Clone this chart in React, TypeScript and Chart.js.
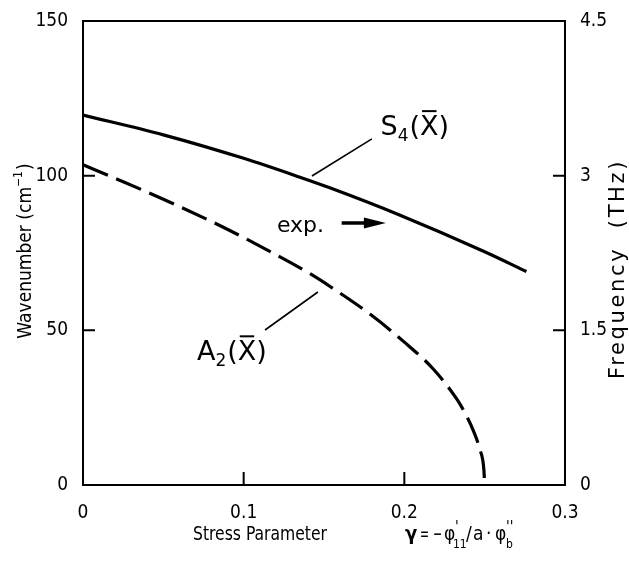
import React, { useEffect, useRef } from "react";
import { Chart, registerables } from "chart.js";

Chart.register(...registerables);

const FONT = "'DejaVu Sans Condensed', 'DejaVu Sans', sans-serif";
const FONT_REG = "'DejaVu Sans', sans-serif";

// S4(X) branch (solid), wavenumber in cm^-1 vs stress parameter gamma
const s4Gamma = [0, 0.05, 0.1, 0.135, 0.154, 0.197, 0.25, 0.276];
const s4Wavenumber = [119.6, 113.2, 105.6, 99.5, 96, 87.3, 75.4, 69];

// A2(X) branch (dashed)
const a2Gamma = [0, 0.022, 0.05, 0.087, 0.12, 0.141, 0.154, 0.179, 0.2, 0.218, 0.233, 0.238, 0.243, 0.247, 0.2495, 0.25];
const a2Wavenumber = [103.5, 98.7, 92.4, 83.4, 74.5, 68.4, 64.1, 55.1, 46.2, 37.5, 27.5, 23, 17.5, 11.5, 5, 0];

const xTicks = [0, 0.1, 0.2, 0.3];
const xTickLabels = ["0", "0.1", "0.2", "0.3"];
const yTicks = [0, 50, 100, 150];
const yTickLabels = ["0", "50", "100", "150"];
const y2Ticks = [0, 1.5, 3, 4.5];
const y2TickLabels = ["0", "1.5", "3", "4.5"];

// annotation anchors in data coordinates (gamma, wavenumber)
const s4LabelAt = [0.1852, 113.2];
const s4LeaderFrom = [0.1425, 99.9];
const s4LeaderTo = [0.1798, 111.9];
const a2LabelAt = [0.0709, 40.4];
const a2LeaderFrom = [0.1462, 62.4];
const a2LeaderTo = [0.1133, 50.1];
const expLabelAt = [0.1207, 81.8];
const expArrowFrom = [0.161, 84.7];
const expArrowTo = [0.1885, 84.7];

function drawModeLabel(ctx: CanvasRenderingContext2D, x: number, y: number, main: string, sub: string) {
  const size = 27;
  let cx = x;
  ctx.font = `${size}px ${FONT_REG}`;
  ctx.fillText(main, cx, y);
  cx += ctx.measureText(main).width;
  ctx.font = `17px ${FONT_REG}`;
  ctx.fillText(sub, cx, y + 6);
  cx += ctx.measureText(sub).width + 1;
  ctx.font = `${size}px ${FONT_REG}`;
  ctx.fillText("(", cx, y);
  cx += ctx.measureText("(").width;
  const wX = ctx.measureText("X").width;
  ctx.fillText("X", cx, y);
  ctx.save();
  ctx.lineWidth = 2;
  ctx.beginPath();
  ctx.moveTo(cx + 2, y - size * 0.73 - 4);
  ctx.lineTo(cx + wX - 2, y - size * 0.73 - 4);
  ctx.stroke();
  ctx.restore();
  cx += wX;
  ctx.fillText(")", cx, y);
}

function fillFit(ctx: CanvasRenderingContext2D, text: string, x: number, y: number, width: number) {
  const w = ctx.measureText(text).width;
  ctx.save();
  ctx.translate(x, y);
  ctx.scale(width / w, 1);
  ctx.fillText(text, 0, 0);
  ctx.restore();
}

const overlay = {
  id: "overlay",
  afterDraw(chart: any) {
    const { ctx, chartArea: a, scales } = chart;
    const xs = scales.x, ys = scales.y, y2 = scales.y2;
    const P = (p: number[]) => [xs.getPixelForValue(p[0]), ys.getPixelForValue(p[1])];
    ctx.save();
    ctx.strokeStyle = "#000";
    ctx.fillStyle = "#000";
    ctx.textBaseline = "alphabetic";
    ctx.textAlign = "left";

    // frame
    ctx.lineWidth = 2;
    ctx.strokeRect(a.left, a.top, a.right - a.left, a.bottom - a.top);

    // inward ticks
    ctx.beginPath();
    for (const v of xTicks) {
      if (v <= xs.min || v >= xs.max) continue;
      const px = xs.getPixelForValue(v);
      ctx.moveTo(px, a.bottom);
      ctx.lineTo(px, a.bottom - 13);
    }
    for (const v of yTicks) {
      if (v <= ys.min || v >= ys.max) continue;
      const py = ys.getPixelForValue(v);
      ctx.moveTo(a.left, py);
      ctx.lineTo(a.left + 12, py);
    }
    for (const v of y2Ticks) {
      if (v <= y2.min || v >= y2.max) continue;
      const py = y2.getPixelForValue(v);
      ctx.moveTo(a.right, py);
      ctx.lineTo(a.right - 12, py);
    }
    ctx.stroke();

    // left title
    ctx.save();
    ctx.translate(31, 251);
    ctx.rotate(-Math.PI / 2);
    ctx.font = `19px ${FONT}`;
    const t1 = "Wavenumber (cm";
    const w1 = ctx.measureText(t1).width;
    ctx.font = `12px ${FONT}`;
    const t2 = "−1";
    const w2 = ctx.measureText(t2).width;
    ctx.font = `19px ${FONT}`;
    const w3 = ctx.measureText(")").width;
    const total = w1 + w2 + w3 + 1;
    let cx = -total / 2;
    ctx.fillText(t1, cx, 0);
    cx += w1;
    ctx.font = `12px ${FONT}`;
    ctx.fillText(t2, cx, -9);
    cx += w2 + 1;
    ctx.font = `19px ${FONT}`;
    ctx.fillText(")", cx, 0);
    ctx.restore();

    // right title
    ctx.save();
    ctx.translate(624, 269);
    ctx.rotate(-Math.PI / 2);
    ctx.font = `21px ${FONT_REG}`;
    const rt = "Frequency  (THz)";
    const rw = ctx.measureText(rt).width;
    const sp = Math.max(0, (220 - rw) / rt.length);
    (ctx as any).letterSpacing = `${sp}px`;
    const rw2 = ctx.measureText(rt).width;
    ctx.fillText(rt, -rw2 / 2, 0);
    (ctx as any).letterSpacing = "0px";
    ctx.restore();

    // x title
    ctx.font = `20px ${FONT}`;
    fillFit(ctx, "Stress Parameter", 193, 540, 134);
    ctx.font = `bold 20px ${FONT}`;
    ctx.fillText("γ", 405, 540);
    ctx.font = `19px ${FONT}`;
    fillFit(ctx, "=", 420, 540, 9);
    fillFit(ctx, "−", 433, 540, 9);
    ctx.fillText("φ", 444, 540);
    ctx.font = `15px ${FONT}`;
    ctx.fillText("'", 455, 532);
    ctx.font = `12px ${FONT}`;
    ctx.fillText("11", 453, 548);
    ctx.font = `19px ${FONT}`;
    ctx.fillText("/", 466, 540);
    ctx.fillText("a", 473, 540);
    ctx.fillText("·", 486, 540);
    ctx.fillText("φ", 495, 540);
    ctx.font = `15px ${FONT}`;
    ctx.fillText("''", 506, 532);
    ctx.font = `12px ${FONT}`;
    ctx.fillText("b", 506, 548);

    // mode labels + leaders
    ctx.lineWidth = 1.6;
    ctx.beginPath();
    let p = P(s4LeaderFrom), q = P(s4LeaderTo);
    ctx.moveTo(p[0], p[1]);
    ctx.lineTo(q[0], q[1]);
    p = P(a2LeaderFrom); q = P(a2LeaderTo);
    ctx.moveTo(p[0], p[1]);
    ctx.lineTo(q[0], q[1]);
    ctx.stroke();

    const s4p = P(s4LabelAt);
    drawModeLabel(ctx, s4p[0], s4p[1], "S", "4");
    const a2p = P(a2LabelAt);
    drawModeLabel(ctx, a2p[0], a2p[1], "A", "2");

    // exp. with arrow
    const ep = P(expLabelAt);
    ctx.font = `22px ${FONT_REG}`;
    ctx.fillText("exp.", ep[0], ep[1]);
    const af = P(expArrowFrom), at = P(expArrowTo);
    ctx.lineWidth = 3.5;
    ctx.beginPath();
    ctx.moveTo(af[0], af[1]);
    ctx.lineTo(at[0] - 16, at[1]);
    ctx.stroke();
    ctx.beginPath();
    ctx.moveTo(at[0], at[1]);
    ctx.lineTo(at[0] - 22, at[1] - 5.5);
    ctx.lineTo(at[0] - 22, at[1] + 5.5);
    ctx.closePath();
    ctx.fill();

    ctx.restore();
  },
};

export default function App() {
  const ref = useRef<HTMLCanvasElement>(null);
  useEffect(() => {
    if (!ref.current) return;
    const tickFont = { family: FONT, size: 19 };
    const chart = new Chart(ref.current, {
      type: "line",
      data: {
        datasets: [
          {
            label: "S4",
            data: s4Gamma.map((g, i) => ({ x: g, y: s4Wavenumber[i] })),
            borderColor: "#000",
            borderWidth: 3.2,
            pointRadius: 0,
            fill: false,
            cubicInterpolationMode: "monotone",
            yAxisID: "y",
          },
          {
            label: "A2",
            data: a2Gamma.map((g, i) => ({ x: g, y: a2Wavenumber[i] })),
            borderColor: "#000",
            borderWidth: 3.2,
            borderDash: [27, 9],
            pointRadius: 0,
            fill: false,
            cubicInterpolationMode: "monotone",
            yAxisID: "y",
          },
        ],
      },
      options: {
        responsive: false,
        animation: false,
        devicePixelRatio: 1,
        layout: { padding: { top: 21, left: 0, right: 0, bottom: 0 } },
        plugins: { legend: { display: false }, tooltip: { enabled: false } },
        scales: {
          x: {
            type: "linear",
            min: 0,
            max: 0.3,
            grid: { display: false },
            border: { display: false },
            afterBuildTicks: (s: any) => {
              s.ticks = xTicks.map((v) => ({ value: v }));
            },
            afterFit: (s: any) => {
              s.height = 77;
            },
            ticks: {
              autoSkip: false,
              maxRotation: 0,
              padding: 9,
              color: "#000",
              font: tickFont,
              callback: (_v: any, i: number) => xTickLabels[i],
            },
          },
          y: {
            type: "linear",
            position: "left",
            min: 0,
            max: 150,
            grid: { display: false },
            border: { display: false },
            afterBuildTicks: (s: any) => {
              s.ticks = yTicks.map((v) => ({ value: v }));
            },
            afterFit: (s: any) => {
              s.width = 83;
            },
            ticks: {
              autoSkip: false,
              padding: 7,
              color: "#000",
              font: tickFont,
              callback: (_v: any, i: number) => yTickLabels[i],
            },
          },
          y2: {
            type: "linear",
            position: "right",
            min: 0,
            max: 4.5,
            grid: { display: false },
            border: { display: false },
            afterBuildTicks: (s: any) => {
              s.ticks = y2Ticks.map((v) => ({ value: v }));
            },
            afterFit: (s: any) => {
              s.width = 64;
            },
            ticks: {
              autoSkip: false,
              padding: 7,
              color: "#000",
              font: tickFont,
              callback: (_v: any, i: number) => y2TickLabels[i],
            },
          },
        },
      },
      plugins: [overlay],
    } as any);
    return () => chart.destroy();
  }, []);
  return (
    <div style={{ position: "absolute", left: 0, top: 0, width: 629, height: 562, background: "#fff" }}>
      <canvas ref={ref} width={629} height={562} />
    </div>
  );
}
